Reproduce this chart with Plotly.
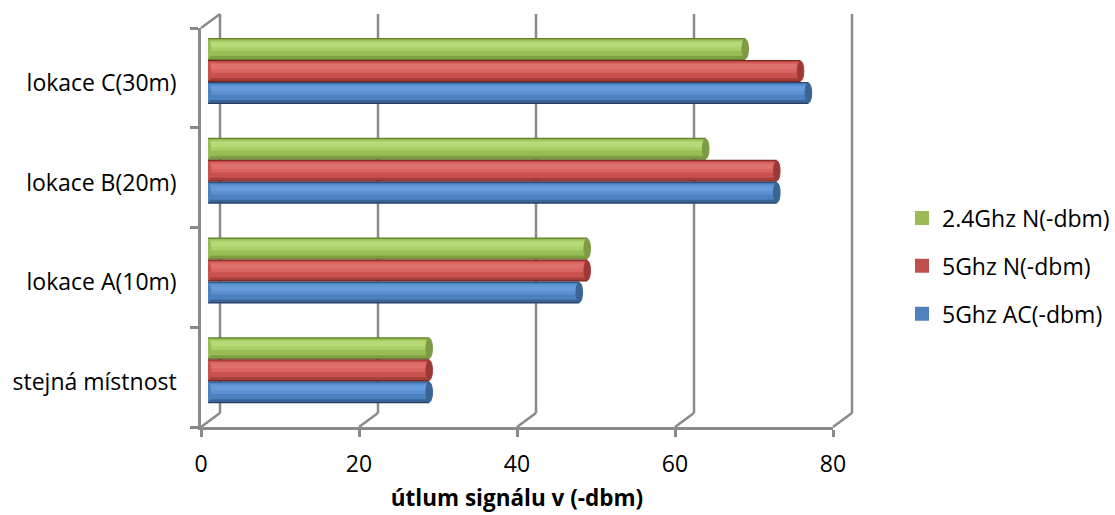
import plotly.graph_objects as go

# ---- data -------------------------------------------------------------
categories = ["stejná místnost", "lokace A(10m)", "lokace B(20m)", "lokace C(30m)"]
series_names = ["2.4Ghz N(-dbm)", "5Ghz N(-dbm)", "5Ghz AC(-dbm)"]
ghz24_n = [28, 48, 63, 68]
ghz5_n = [28, 48, 72, 75]
ghz5_ac = [28, 47, 72, 76]
x_ticks = [0, 20, 40, 60, 80]
axis_title = "útlum signálu v (-dbm)"

# ---- geometry of the pseudo-3D frame (pixels) ---------------------------
W, H = 1115, 515
FRONT_X0 = 201          # x=0 on the front plane
PX_PER_UNIT = 7.9
FRONT_BOTTOM, FRONT_TOP = 427, 28
DEPTH_DX, DEPTH_DY = 19, -14   # front plane -> back wall
BAR_DEPTH = 0.42               # bars sit roughly half way in depth
X_MAX = 80
GRID = "#8a8a8a"
FONT = "Open Sans, Noto Sans, sans-serif"


def fx(px):
    return px / W


def fy(py):
    return 1 - py / H


front_x1 = FRONT_X0 + X_MAX * PX_PER_UNIT
bar_x0 = FRONT_X0 + BAR_DEPTH * DEPTH_DX - 1
bar_dy = BAR_DEPTH * DEPTH_DY - 1

# series styling: (values, name, [dark .. light] shades, main colour, cap colour, y offset)
BAR_W = 0.22
styles = [
    (ghz24_n, series_names[0], ["#5f7a2c", "#7f9f40", "#98bd56", "#a9d168", "#b6da78"], "#9bbb59", "#7d9a44", 0.11),
    (ghz5_n, series_names[1], ["#7a2624", "#a53e3b", "#c9524e", "#d96461", "#de716e"], "#c0504d", "#9c3835", -0.11),
    (ghz5_ac, series_names[2], ["#263f63", "#3a6396", "#4d82c0", "#5b91d2", "#669bda"], "#4f81bd", "#3a6497", -0.33),
]
# shading bands as fractions of the bar thickness (bottom, top)
bands = [(0.0, 1.0), (0.05, 0.96), (0.18, 0.93), (0.42, 0.88), (0.58, 0.82)]

fig = go.Figure()
y_idx = list(range(len(categories)))
shapes = []

for rank, (vals, name, shades, main, cap, off) in enumerate(styles):
    for k, ((b0, b1), col) in enumerate(zip(bands, shades)):
        fig.add_trace(go.Bar(
            x=vals, y=y_idx, orientation="h",
            offset=off + b0 * BAR_W, width=(b1 - b0) * BAR_W,
            marker=dict(color=col, line=dict(width=0)),
            name=name, legendgroup=name, legendrank=rank + 1,
            showlegend=False, hoverinfo="skip" if k else "x+name",
            xaxis="x", yaxis="y",
        ))
    # legend entry with the series' main colour
    fig.add_trace(go.Scatter(
        x=[None], y=[None], mode="markers", name=name,
        marker=dict(color=main, symbol="square", size=14),
        legendgroup=name, legendrank=rank + 1, showlegend=True,
        xaxis="x", yaxis="y",
    ))
    # end faces of the cylinders
    for i, v in enumerate(vals):
        shapes.append(dict(
            type="circle", xref="x", yref="y", layer="above",
            x0=v - 0.42, x1=v + 0.42,
            y0=i + off + 0.01, y1=i + off + BAR_W - 0.01,
            fillcolor=cap, line=dict(color=shades[1], width=1),
        ))
        shapes.append(dict(
            type="circle", xref="x", yref="y", layer="above",
            x0=-0.42, x1=0.42,
            y0=i + off + 0.01, y1=i + off + BAR_W - 0.01,
            fillcolor=shades[2], line=dict(width=0),
        ))

# front-plane axes carry no marks of their own; an empty trace creates the subplot
fig.add_trace(go.Scatter(x=[None], y=[None], xaxis="x2", yaxis="y2",
                         showlegend=False, hoverinfo="skip"))

# diagonal edges of the floor and the top-left corner
line_style = dict(color=GRID, width=2.5)
for t in x_ticks:
    x_front = FRONT_X0 + t * PX_PER_UNIT
    shapes.append(dict(
        type="line", xref="paper", yref="paper", layer="below",
        x0=fx(x_front), y0=fy(FRONT_BOTTOM),
        x1=fx(x_front + DEPTH_DX), y1=fy(FRONT_BOTTOM + DEPTH_DY),
        line=line_style,
    ))
shapes.append(dict(
    type="line", xref="paper", yref="paper", layer="below",
    x0=fx(FRONT_X0), y0=fy(FRONT_TOP),
    x1=fx(FRONT_X0 + DEPTH_DX), y1=fy(FRONT_TOP + DEPTH_DY),
    line=line_style,
))

# back wall vertical grid lines
for t in x_ticks:
    xb = FRONT_X0 + DEPTH_DX + t * PX_PER_UNIT
    shapes.append(dict(
        type="line", xref="paper", yref="paper", layer="below",
        x0=fx(xb), y0=fy(FRONT_BOTTOM + DEPTH_DY),
        x1=fx(xb), y1=fy(FRONT_TOP + DEPTH_DY),
        line=line_style,
    ))

fig.update_layout(
    width=W, height=H,
    margin=dict(l=0, r=0, t=0, b=0, autoexpand=False),
    paper_bgcolor="white", plot_bgcolor="rgba(0,0,0,0)",
    barmode="overlay",
    font=dict(family=FONT, size=23, color="#000000"),
    showlegend=True,
    legend=dict(
        x=1.0, y=fy(266), xanchor="right", yanchor="middle",
        traceorder="grouped", tracegroupgap=15,
        font=dict(size=23), itemwidth=30, itemsizing="trace",
        bgcolor="rgba(0,0,0,0)",
    ),
    shapes=shapes,
    # bars (mid depth)
    xaxis=dict(
        domain=[fx(bar_x0), fx(bar_x0 + X_MAX * PX_PER_UNIT)],
        range=[0, X_MAX], visible=False, anchor="y", automargin=False,
    ),
    yaxis=dict(
        domain=[fy(FRONT_BOTTOM + bar_dy), fy(FRONT_TOP + bar_dy)],
        range=[-0.5, len(categories) - 0.5], visible=False, anchor="x",
        automargin=False,
    ),
    # front plane: value axis and category labels
    xaxis2=dict(
        domain=[fx(FRONT_X0), fx(front_x1)], range=[0, X_MAX], anchor="y2",
        tickvals=x_ticks, ticks="outside", ticklen=7, tickwidth=2.5, tickcolor=GRID,
        showline=True, linecolor=GRID, linewidth=2.5, automargin=False,
        showgrid=False, zeroline=False, ticklabelstandoff=8,
        title=dict(text="<b>" + axis_title + "</b>", font=dict(size=22.5), standoff=12),
    ),
    yaxis2=dict(
        domain=[fy(FRONT_BOTTOM), fy(FRONT_TOP)],
        range=[-0.5, len(categories) - 0.5], anchor="x2",
        tickvals=y_idx, ticktext=categories, ticks="",
        minor=dict(tickvals=[i - 0.5 for i in range(len(categories) + 1)],
                   ticks="outside", ticklen=8, tickwidth=2.5, tickcolor=GRID,
                   showgrid=False),
        showline=True, linecolor=GRID, linewidth=2.5, automargin=False,
        showgrid=False, zeroline=False, ticklabelstandoff=17, ticklabelshift=5,
    ),
)

fig.write_html("out.html")
